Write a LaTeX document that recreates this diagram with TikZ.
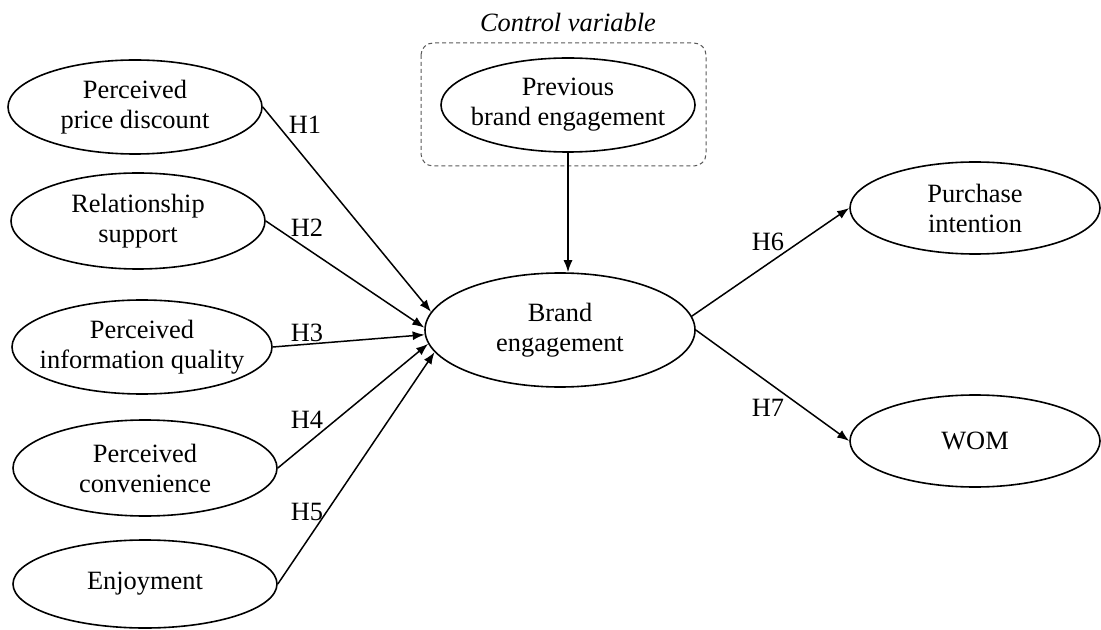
\documentclass[tikz,border=0pt]{standalone}
\usepackage{fontspec}
\setmainfont{Liberation Serif}
\usetikzlibrary{shapes.geometric,arrows.meta}
\begin{document}
\begin{tikzpicture}[x=.5pt,y=-.5pt,
    font=\fontsize{13.2pt}{15pt}\selectfont,
    construct/.style={draw,ellipse,line width=.8pt,align=center,inner xsep=-25pt,inner ysep=-4pt,minimum width=127pt,minimum height=47pt},
    hyp/.style={-{Latex[length=6pt,width=4.5pt]},line width=.75pt},
    ctrlbox/.style={draw=black!65,dash pattern=on 2pt off 1.5pt,line width=.5pt,rounded corners=6pt}]
      \useasboundingbox (0,0) rectangle (1101,630);
      \node[construct] (pd) at (135,107) {Perceived\\price discount};
      \node[construct,minimum height=48pt] (rs) at (138,221) {Relationship\\support};
      \node[construct,minimum width=130pt] (iq) at (142,347) {Perceived\\information quality};
      \node[construct,minimum width=132pt,minimum height=48pt] (pc) at (145,468) {Perceived\\convenience};
      \node[construct,minimum width=132pt,minimum height=44pt] (en) at (145,584) {Enjoyment};
      \draw[ctrlbox] (421,43) rectangle (706,166);
      \node[font=\fontsize{13.2pt}{15pt}\selectfont\itshape] (ctrl) at (568,22) {Control variable};
      \node[construct] (pbe) at (568,105) {Previous\\brand engagement};
      \node[construct,minimum width=135pt,minimum height=57pt] (be) at (560,330) {Brand\\engagement};
      \node[construct,minimum width=125pt,minimum height=46pt] (pi) at (975,208) {Purchase\\intention};
      \node[construct,minimum width=125pt,minimum height=46pt] (wom) at (975,441) {WOM};
      \node (h1) at (305,125) {H1};
      \node (h2) at (307,228) {H2};
      \node (h3) at (307,333) {H3};
      \node (h4) at (307,420) {H4};
      \node (h5) at (307,512) {H5};
      \node (h6) at (768,242) {H6};
      \node (h7) at (768,408) {H7};
      \draw[hyp] (pd.east) -- (be.172);
      \draw[hyp] (rs.east) -- (be.179);
      \draw[hyp] (iq.east) -- (be.182);
      \draw[hyp] (pc.east) -- (be.186);
      \draw[hyp] (en.east) -- (be.190);
      \draw[hyp] (pbe.south) -- (pbe.south |- be.north);
      \draw[hyp] (be.6) -- (pi.west);
      \draw[hyp] (be.east) -- (wom.west);
\end{tikzpicture}
\end{document}
